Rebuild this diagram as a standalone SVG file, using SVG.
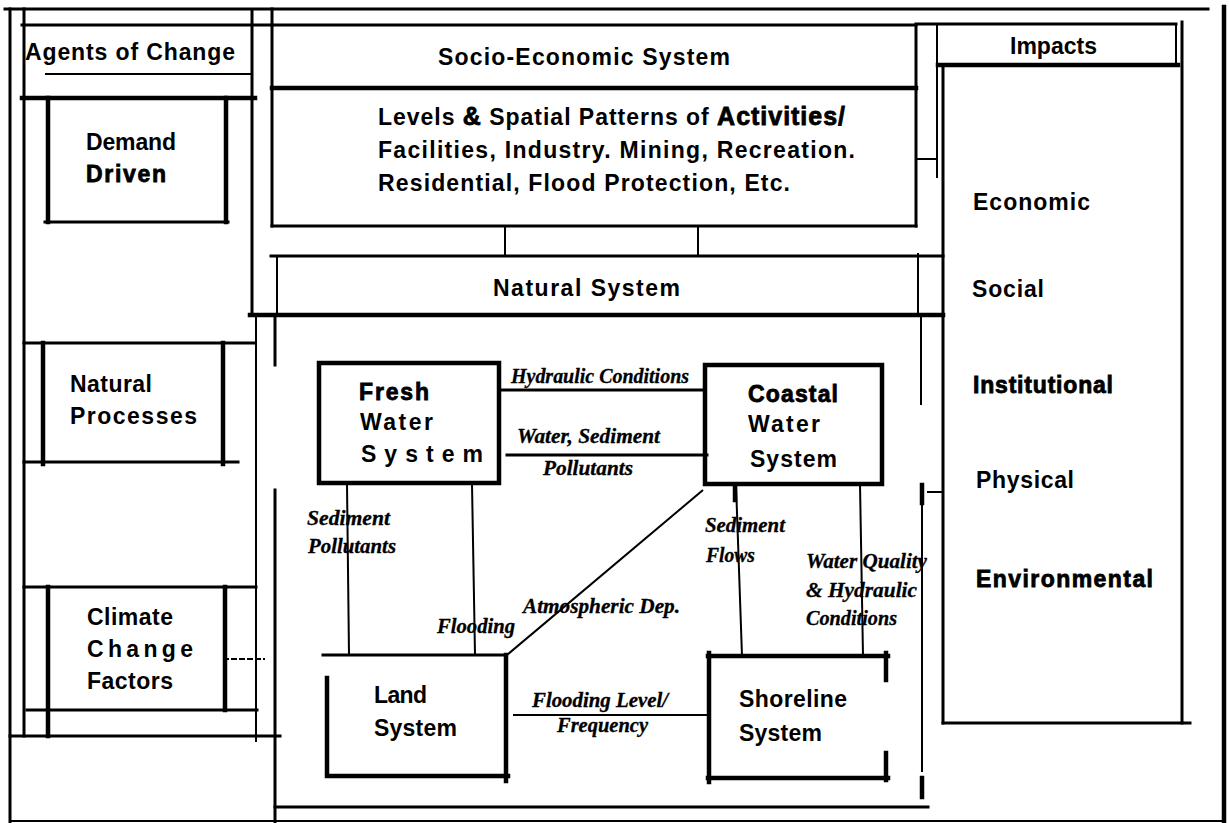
<svg xmlns="http://www.w3.org/2000/svg" width="1229" height="823" viewBox="0 0 1229 823">
<style>
.l{stroke:#000;stroke-width:3;fill:none;stroke-linecap:square}
.t{stroke:#000;stroke-width:2;fill:none}
.k{stroke:#000;stroke-width:4.5;fill:none;stroke-linecap:square}
.s{font-family:"Liberation Sans",Arial,sans-serif;font-weight:bold;font-size:23px;fill:#000}
.h{stroke:#000;stroke-width:0.8}
.i{font-family:"Liberation Serif","Times New Roman",serif;font-weight:bold;font-style:italic;font-size:20px;fill:#000;stroke:#000;stroke-width:0.3}
</style>
<rect width="1229" height="823" fill="#fff"/>
<g id="frame">
<line class="l" x1="5" y1="9" x2="1208" y2="9"/>
<line class="k" x1="1224" y1="7" x2="1224" y2="823"/>
<line class="l" x1="10" y1="9" x2="10" y2="823"/>
<line class="t" x1="10" y1="821" x2="1224" y2="821"/>
<line class="l" x1="24" y1="9" x2="24" y2="736"/>
<line class="l" x1="252" y1="10" x2="252" y2="313"/>
<line class="t" x1="256" y1="317" x2="256" y2="742"/>
<line class="l" x1="10" y1="736" x2="280" y2="736"/>
<line class="l" x1="24" y1="343" x2="255" y2="343"/>
<line class="l" x1="24" y1="587" x2="256" y2="587"/>
</g>
<g id="agents-of-change">
<line class="l" x1="22" y1="25" x2="272" y2="25"/>
<line class="t" x1="45" y1="74" x2="252" y2="74"/>
<line class="k" x1="22" y1="98" x2="255" y2="98"/>
<text class="s" x="25" y="60" font-size="22" textLength="210" lengthAdjust="spacing">Agents of Change</text>
</g>
<g id="demand-driven">
<line class="k" x1="48" y1="98" x2="48" y2="222"/>
<line class="k" x1="226" y1="98" x2="226" y2="222"/>
<line class="l" x1="45" y1="222" x2="228" y2="222"/>
<text class="s" x="86" y="150" textLength="90" lengthAdjust="spacing">Demand</text>
<text class="s h" x="86" y="182" font-size="24" textLength="80" lengthAdjust="spacing">Driven</text>
</g>
<g id="natural-processes">
<line class="k" x1="43" y1="343" x2="43" y2="464"/>
<line class="k" x1="223" y1="343" x2="223" y2="464"/>
<line class="l" x1="24" y1="462" x2="238" y2="462"/>
<text class="s" x="70" y="392" font-size="24" textLength="82" lengthAdjust="spacing">Natural</text>
<text class="s" x="70" y="424" font-size="24" textLength="127" lengthAdjust="spacing">Processes</text>
</g>
<g id="climate-change-factors">
<line class="k" x1="48" y1="587" x2="48" y2="736"/>
<line class="k" x1="225" y1="587" x2="225" y2="710"/>
<line class="l" x1="27" y1="710" x2="257" y2="710"/>
<text class="s" x="87" y="625" textLength="86" lengthAdjust="spacing">Climate</text>
<text class="s" x="87" y="657" textLength="106" lengthAdjust="spacing">Change</text>
<text class="s" x="87" y="689" textLength="86" lengthAdjust="spacing">Factors</text>
</g>
<g id="socio-economic-system">
<line class="l" x1="272" y1="9" x2="272" y2="226"/>
<line class="l" x1="272" y1="25" x2="916" y2="25"/>
<line class="l" x1="916" y1="25" x2="916" y2="226"/>
<line class="l" x1="272" y1="226" x2="916" y2="226"/>
<line class="k" x1="272" y1="88" x2="916" y2="88"/>
<text class="s" x="438" y="65" textLength="292" lengthAdjust="spacing">Socio-Economic System</text>
<text class="s" x="378" y="125" textLength="467" lengthAdjust="spacing">Levels <tspan class="h" font-size="25">&amp;</tspan> Spatial Patterns of <tspan class="h" font-size="25">Activities/</tspan></text>
<text class="s" x="378" y="158" textLength="477" lengthAdjust="spacing">Facilities, Industry. Mining, Recreation.</text>
<text class="s" x="378" y="191" textLength="412" lengthAdjust="spacing">Residential, Flood Protection, Etc.</text>
</g>
<g id="natural-system">
<line class="l" x1="271" y1="256" x2="943" y2="256"/>
<line class="t" x1="277" y1="256" x2="277" y2="315"/>
<line class="t" x1="918" y1="253" x2="918" y2="315"/>
<line class="k" x1="250" y1="315" x2="943" y2="315"/>
<line class="l" x1="275" y1="315" x2="275" y2="365"/>
<line class="l" x1="275" y1="490" x2="275" y2="823"/>
<line class="t" x1="921" y1="315" x2="921" y2="405"/>
<line class="t" x1="922" y1="485" x2="922" y2="772"/>
<line class="k" x1="922" y1="485" x2="922" y2="503"/>
<line class="k" x1="922" y1="778" x2="922" y2="797"/>
<line class="l" x1="275" y1="807" x2="928" y2="807"/>
<text class="s" x="493" y="296" textLength="187" lengthAdjust="spacing">Natural System</text>
</g>
<g id="fresh-water-system">
<rect class="k" x="319" y="363" width="180" height="120"/>
<text class="s h" x="359" y="400" font-size="24" textLength="70" lengthAdjust="spacing">Fresh</text>
<text class="s" x="360" y="430" font-size="22" textLength="73" lengthAdjust="spacing">Water</text>
<text class="s" x="361" y="462" font-size="23" textLength="122" lengthAdjust="spacing">System</text>
</g>
<g id="coastal-water-system">
<rect class="k" x="705" y="365" width="177" height="119"/>
<text class="s h" x="748" y="402" font-size="24" textLength="90" lengthAdjust="spacing">Coastal</text>
<text class="s" x="748" y="432" font-size="22" textLength="72" lengthAdjust="spacing">Water</text>
<text class="s" x="750" y="467" font-size="24" textLength="87" lengthAdjust="spacing">System</text>
</g>
<g id="land-system">
<line class="l" x1="323" y1="655" x2="506" y2="655"/>
<line class="k" x1="327" y1="678" x2="327" y2="772"/>
<line class="k" x1="506" y1="655" x2="506" y2="781"/>
<line class="k" x1="327" y1="776" x2="508" y2="776"/>
<text class="s" x="374" y="703" font-size="22" textLength="53" lengthAdjust="spacing">Land</text>
<text class="s" x="374" y="736" textLength="83" lengthAdjust="spacing">System</text>
</g>
<g id="shoreline-system">
<line class="k" x1="708" y1="656" x2="888" y2="656"/>
<line class="k" x1="709" y1="653" x2="709" y2="782"/>
<line class="k" x1="886" y1="653" x2="886" y2="680"/>
<line class="k" x1="886" y1="753" x2="886" y2="780"/>
<line class="k" x1="708" y1="778" x2="888" y2="778"/>
<text class="s" x="739" y="707" textLength="108" lengthAdjust="spacing">Shoreline</text>
<text class="s" x="739" y="741" textLength="83" lengthAdjust="spacing">System</text>
</g>
<g id="impacts">
<line class="l" x1="916" y1="24" x2="1176" y2="24"/>
<line class="t" x1="937" y1="24" x2="937" y2="178"/>
<line class="t" x1="1176" y1="24" x2="1176" y2="65"/>
<line class="k" x1="938" y1="65" x2="1178" y2="65"/>
<line class="l" x1="943" y1="65" x2="943" y2="723"/>
<line class="l" x1="1182" y1="22" x2="1182" y2="723"/>
<line class="l" x1="943" y1="723" x2="1190" y2="723"/>
<text class="s" x="1010" y="54" textLength="87" lengthAdjust="spacing">Impacts</text>
<text class="s" x="973" y="210" font-size="24" textLength="117" lengthAdjust="spacing">Economic</text>
<text class="s" x="972" y="297" font-size="24" textLength="72" lengthAdjust="spacing">Social</text>
<text class="s h" x="973" y="393" font-size="24" textLength="140" lengthAdjust="spacing">Institutional</text>
<text class="s" x="976" y="488" font-size="22" textLength="98" lengthAdjust="spacing">Physical</text>
<text class="s h" x="976" y="587" font-size="25" textLength="177" lengthAdjust="spacing">Environmental</text>
</g>
<g id="connectors">
<line class="t" x1="505" y1="226" x2="505" y2="256"/>
<line class="t" x1="698" y1="226" x2="698" y2="256"/>
<line class="t" x1="916" y1="159" x2="938" y2="159"/>
<line class="t" x1="223" y1="659" x2="265" y2="659" stroke-dasharray="6 2"/>
<line class="t" x1="927" y1="492" x2="943" y2="492"/>
<line class="l" x1="500" y1="390" x2="705" y2="390"/>
<line class="l" x1="507" y1="455" x2="707" y2="455"/>
<line class="t" x1="347" y1="484" x2="349" y2="655"/>
<line class="t" x1="472" y1="484" x2="475" y2="655"/>
<line class="t" x1="703" y1="490" x2="507" y2="655"/>
<line class="t" x1="513" y1="715" x2="709" y2="715"/>
<line class="t" x1="736" y1="484" x2="742" y2="656"/>
<line class="k" x1="735" y1="486" x2="735" y2="500"/>
<line class="t" x1="860" y1="484" x2="863" y2="656"/>
<text class="i" x="511" y="383" textLength="178" lengthAdjust="spacingAndGlyphs">Hydraulic Conditions</text>
<text class="i" x="517" y="443" textLength="143" lengthAdjust="spacingAndGlyphs">Water, Sediment</text>
<text class="i" x="543" y="475" textLength="90" lengthAdjust="spacingAndGlyphs">Pollutants</text>
<text class="i" x="307" y="525" textLength="83" lengthAdjust="spacingAndGlyphs">Sediment</text>
<text class="i" x="308" y="553" textLength="88" lengthAdjust="spacingAndGlyphs">Pollutants</text>
<text class="i" x="437" y="633" textLength="78" lengthAdjust="spacingAndGlyphs">Flooding</text>
<text class="i" x="523" y="613" textLength="157" lengthAdjust="spacingAndGlyphs">Atmospheric Dep.</text>
<text class="i" x="532" y="707" textLength="136" lengthAdjust="spacingAndGlyphs">Flooding Level/</text>
<text class="i" x="557" y="732" textLength="91" lengthAdjust="spacingAndGlyphs">Frequency</text>
<text class="i" x="705" y="532" textLength="80" lengthAdjust="spacingAndGlyphs">Sediment</text>
<text class="i" x="706" y="562" textLength="49" lengthAdjust="spacingAndGlyphs">Flows</text>
<text class="i" x="806" y="568" textLength="121" lengthAdjust="spacingAndGlyphs">Water Quality</text>
<text class="i" x="806" y="597" textLength="111" lengthAdjust="spacingAndGlyphs">&amp; Hydraulic</text>
<text class="i" x="806" y="625" textLength="91" lengthAdjust="spacingAndGlyphs">Conditions</text>
</g>
</svg>
